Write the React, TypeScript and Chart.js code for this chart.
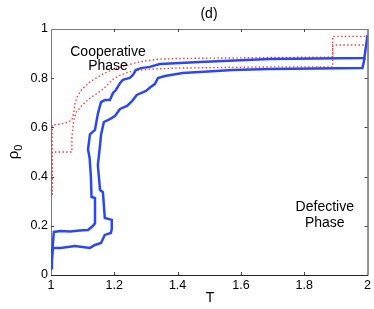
import React, { useEffect, useRef } from "react";
import { Chart, registerables } from "chart.js";

Chart.register(...registerables);

const xTickValues = [1, 1.2, 1.4, 1.6, 1.8, 2];
const xTickLabels = ["1", "1.2", "1.4", "1.6", "1.8", "2"];
const yTickValues = [0, 0.2, 0.4, 0.6, 0.8, 1];
const yTickLabels = ["0", "0.2", "0.4", "0.6", "0.8", "1"];

const chartTitle = "(d)";
const xAxisLabel = "T";
const yAxisLabel = "ρ";
const yAxisSub = "0";
const coopLabel = ["Cooperative", "Phase"];
const defectLabel = ["Defective", "Phase"];

const redUpperT = [1.004, 1.004, 1.032, 1.054, 1.066, 1.072, 1.076, 1.085, 1.098, 1.12, 1.148, 1.17, 1.202, 1.233, 1.265, 1.297, 1.338, 1.397, 1.691, 1.89, 1.89, 2.0];
const redUpperRho = [0.325, 0.61, 0.614, 0.622, 0.63, 0.66, 0.7, 0.73, 0.755, 0.782, 0.805, 0.821, 0.838, 0.85, 0.862, 0.87, 0.877, 0.88, 0.884, 0.886, 0.97, 0.97];

const redLowerT = [1.004, 1.004, 1.066, 1.066, 1.072, 1.08, 1.095, 1.11, 1.13, 1.148, 1.164, 1.18, 1.195, 1.215, 1.243, 1.274, 1.312, 1.397, 1.691, 1.89, 1.89, 2.0];
const redLowerRho = [0.325, 0.5, 0.5, 0.56, 0.63, 0.662, 0.685, 0.705, 0.725, 0.74, 0.755, 0.775, 0.795, 0.81, 0.824, 0.832, 0.837, 0.841, 0.846, 0.846, 0.935, 0.935];

const blueUpperT = [1.0, 1.003, 1.009, 1.03, 1.06, 1.09, 1.117, 1.132, 1.139, 1.139, 1.128, 1.126, 1.122, 1.117, 1.123, 1.139, 1.148, 1.158, 1.17, 1.186, 1.196, 1.205, 1.218, 1.227, 1.249, 1.259, 1.268, 1.284, 1.312, 1.344, 1.47, 1.691, 1.99, 2.0];
const blueUpperRho = [0.028, 0.081, 0.175, 0.179, 0.177, 0.181, 0.183, 0.199, 0.21, 0.313, 0.317, 0.4, 0.476, 0.51, 0.572, 0.59, 0.655, 0.703, 0.711, 0.711, 0.74, 0.752, 0.78, 0.793, 0.801, 0.813, 0.833, 0.841, 0.846, 0.858, 0.866, 0.878, 0.882, 0.976];

const blueLowerT = [1.0, 1.006, 1.03, 1.076, 1.123, 1.139, 1.158, 1.17, 1.189, 1.192, 1.192, 1.17, 1.167, 1.164, 1.155, 1.148, 1.155, 1.158, 1.167, 1.186, 1.202, 1.218, 1.24, 1.256, 1.271, 1.3, 1.315, 1.328, 1.338, 1.36, 1.416, 1.47, 1.574, 1.691, 1.984, 1.991];
const blueLowerRho = [0.02, 0.11, 0.11, 0.118, 0.11, 0.122, 0.13, 0.163, 0.171, 0.187, 0.224, 0.232, 0.285, 0.337, 0.345, 0.447, 0.528, 0.569, 0.622, 0.634, 0.646, 0.675, 0.687, 0.707, 0.732, 0.748, 0.764, 0.776, 0.801, 0.809, 0.821, 0.825, 0.833, 0.837, 0.841, 0.882];

const toPoints = (xs: number[], ys: number[]) => xs.map((x, i) => ({ x, y: ys[i] }));

const FONT = "'Liberation Sans', Arial, Helvetica, sans-serif";

const decorPlugin = {
  id: "decor",
  beforeDatasetsDraw(chart: any) {
    const { ctx, chartArea: a, scales } = chart;
    const xs = scales.x;
    const ys = scales.y;
    ctx.save();
    ctx.lineWidth = 1;
    ctx.strokeStyle = "#7a7a7a";
    ctx.beginPath();
    ctx.moveTo(a.left + 0.5, a.bottom);
    ctx.lineTo(a.left + 0.5, a.top + 0.5);
    ctx.lineTo(a.right, a.top + 0.5);
    ctx.stroke();
    ctx.strokeStyle = "#262626";
    ctx.beginPath();
    ctx.moveTo(a.left, a.bottom + 0.5);
    ctx.lineTo(a.right + 0.5, a.bottom + 0.5);
    ctx.lineTo(a.right + 0.5, a.top);
    ctx.stroke();
    ctx.strokeStyle = "#444";
    const tl = 3;
    xTickValues.forEach((v) => {
      const px = Math.round(xs.getPixelForValue(v)) + 0.5;
      if (v === xTickValues[0] || v === xTickValues[xTickValues.length - 1]) return;
      ctx.beginPath();
      ctx.moveTo(px, a.bottom);
      ctx.lineTo(px, a.bottom - tl);
      ctx.moveTo(px, a.top);
      ctx.lineTo(px, a.top + tl);
      ctx.stroke();
    });
    yTickValues.forEach((v) => {
      const py = Math.round(ys.getPixelForValue(v)) + 0.5;
      if (v === yTickValues[0] || v === yTickValues[yTickValues.length - 1]) return;
      ctx.beginPath();
      ctx.moveTo(a.left, py);
      ctx.lineTo(a.left + tl, py);
      ctx.moveTo(a.right, py);
      ctx.lineTo(a.right - tl, py);
      ctx.stroke();
    });
    ctx.restore();
  },
  afterDraw(chart: any) {
    const { ctx, scales } = chart;
    const xs = scales.x;
    const ys = scales.y;
    ctx.save();
    ctx.fillStyle = "#000";
    ctx.textAlign = "center";
    ctx.textBaseline = "middle";
    ctx.font = `14px ${FONT}`;
    ctx.fillText(chartTitle, 209, 14);
    ctx.fillText(xAxisLabel, 210, 298);
    const cx = xs.getPixelForValue(1.18);
    ctx.fillText(coopLabel[0], cx, ys.getPixelForValue(0.907));
    ctx.fillText(coopLabel[1], cx, ys.getPixelForValue(0.848));
    const dx = xs.getPixelForValue(1.865);
    ctx.fillText(defectLabel[0], dx, ys.getPixelForValue(0.276));
    ctx.fillText(defectLabel[1], dx, ys.getPixelForValue(0.211));
    ctx.translate(16, 152);
    ctx.rotate(-Math.PI / 2);
    ctx.textAlign = "left";
    ctx.textBaseline = "alphabetic";
    ctx.font = `15px ${FONT}`;
    const w = ctx.measureText(yAxisLabel).width;
    ctx.font = `11px ${FONT}`;
    const w2 = ctx.measureText(yAxisSub).width;
    const start = -(w + w2) / 2;
    ctx.font = `15px ${FONT}`;
    ctx.fillText(yAxisLabel, start, 2);
    ctx.font = `11px ${FONT}`;
    ctx.fillText(yAxisSub, start + w, 6);
    ctx.restore();
  },
};

export default function App() {
  const ref = useRef<HTMLCanvasElement | null>(null);
  useEffect(() => {
    if (!ref.current) return;
    Chart.defaults.font.family = FONT;
    const blue = "#2a48f2";
    const red = "#ff3b3b";
    const redLine = (xs: number[], ys: number[], order: number) => ({
      data: toPoints(xs, ys),
      showLine: true,
      borderColor: red,
      borderWidth: 1.4,
      borderDash: [1.5, 2.3],
      pointRadius: 0,
      tension: 0,
      order,
    });
    const blueLine = (xs: number[], ys: number[], order: number) => ({
      data: toPoints(xs, ys),
      showLine: true,
      borderColor: blue,
      borderWidth: 2.5,
      pointRadius: 0,
      tension: 0,
      order,
    });
    const chart = new Chart(ref.current, {
      type: "scatter",
      data: {
        datasets: [
          blueLine(blueUpperT, blueUpperRho, 1),
          blueLine(blueLowerT, blueLowerRho, 2),
          redLine(redUpperT, redUpperRho, 3),
          redLine(redLowerT, redLowerRho, 4),
        ],
      },
      options: {
        animation: false,
        responsive: false,
        devicePixelRatio: 1,
        layout: { padding: { top: 29, right: 6, bottom: 0, left: 0 } },
        plugins: { legend: { display: false }, title: { display: false }, tooltip: { enabled: false } },
        events: [],
        scales: {
          x: {
            type: "linear",
            min: 1,
            max: 2,
            grid: { display: false, drawTicks: false },
            border: { display: false },
            afterBuildTicks: (s: any) => {
              s.ticks = xTickValues.map((v) => ({ value: v }));
            },
            afterFit: (s: any) => {
              s.height = 34;
            },
            ticks: {
              padding: 3,
              color: "#000",
              font: { size: 12.5, family: FONT },
              maxRotation: 0,
              callback: (v: any) => {
                const i = xTickValues.findIndex((t) => Math.abs(t - v) < 1e-9);
                return i >= 0 ? xTickLabels[i] : "";
              },
            },
          },
          y: {
            type: "linear",
            min: 0,
            max: 1,
            grid: { display: false, drawTicks: false },
            border: { display: false },
            afterBuildTicks: (s: any) => {
              s.ticks = yTickValues.map((v) => ({ value: v }));
            },
            afterFit: (s: any) => {
              s.width = 51;
            },
            ticks: {
              padding: 3,
              color: "#000",
              font: { size: 12.5, family: FONT },
              callback: (v: any) => {
                const i = yTickValues.findIndex((t) => Math.abs(t - v) < 1e-9);
                return i >= 0 ? yTickLabels[i] : "";
              },
            },
          },
        },
      },
      plugins: [decorPlugin],
    });
    return () => chart.destroy();
  }, []);
  return (
    <div style={{ position: "fixed", left: 0, top: 0, width: 374, height: 309, background: "#fff" }}>
      <canvas ref={ref} width={374} height={309} style={{ display: "block" }} />
    </div>
  );
}
